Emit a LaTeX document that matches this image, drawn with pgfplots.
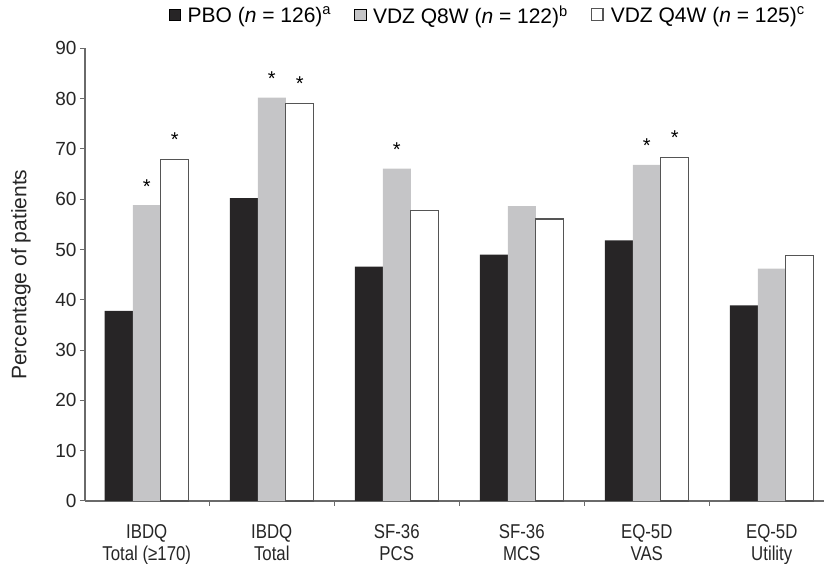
\documentclass[border=0pt]{standalone}
\usepackage{pgfplots}
\pgfplotsset{compat=1.18}
\usepackage{fontspec}
\setmainfont{Liberation Sans}
\newfontfamily\narrowsans[FakeStretch=0.84]{Liberation Sans}

\definecolor{pbo}{HTML}{272526}
\definecolor{qeight}{HTML}{C5C5C7}
\definecolor{edge}{HTML}{555555}
\definecolor{axgray}{HTML}{6A6A6A}

\begin{document}
\begin{tikzpicture}[x=1pt,y=1pt]
\useasboundingbox (-85,-63) rectangle (739,501);
\begin{axis}[
    at={(0,0)}, anchor=south west,
    scale only axis,
    width=739pt, height=452.7pt,
    xmin=-0.494, xmax=5.418,
    ymin=0, ymax=90,
    ybar=0pt, bar width=28pt,
    axis x line*=bottom, axis y line*=left,
    axis line style={-, draw=axgray, line width=1.2pt},
    tick align=outside,
    major tick length=5pt, minor tick length=5pt,
    xtick={0,1,2,3,4,5},
    minor xtick={0.5,1.5,2.5,3.5,4.5},
    major x tick style={draw=none},
    minor x tick style={draw=axgray, line width=1pt},
    y tick style={draw=axgray, line width=1pt},
    ytick={0,10,...,90},
    xticklabels={{IBDQ\\Total (≥170)},{IBDQ\\Total},{SF-36\\PCS},{SF-36\\MCS},{EQ-5D\\VAS},{EQ-5D\\Utility}},
    xticklabel style={align=center, font=\narrowsans\fontsize{20}{22.5}\selectfont, text=black!85, yshift=-15pt},
    yticklabel style={font=\fontsize{19}{21}\selectfont, text=black!85},
    /pgf/number format/assume math mode=true,
    ylabel={Percentage of patients},
    ylabel style={at={(axis description cs:-0.0866,0.5)}, anchor=center, font=\fontsize{21}{23}\selectfont, text=black!85},
    legend columns=-1,
    legend style={at={(0.545,1.073)}, anchor=center, draw=none, fill=none,
        font=\fontsize{21}{24}\selectfont,
        /tikz/every odd column/.append style={column sep=5pt},
        /tikz/every even column/.append style={column sep=21pt}},
    legend image code/.code={\draw[#1] (0pt,-5pt) rectangle (11.5pt,6.5pt);},
    clip=false,
]
\addplot[fill=pbo, draw=none] coordinates {
    (0,37.8) (1,60.2) (2,46.6) (3,49.0) (4,51.8) (5,38.9)};
\addplot[fill=qeight, draw=none, nodes near coords, point meta=explicit symbolic,
    every node near coord/.append style={font=\fontsize{20}{20}\selectfont, inner sep=0pt, anchor=south, yshift=12pt}]
    coordinates {
    (0,58.8) [*] (1,80.2) [*] (2,66.1) [*] (3,58.6) [{}] (4,66.8) [*] (5,46.2) [{}]};
\addplot[fill=white, draw=edge, line width=1.4pt, nodes near coords, point meta=explicit symbolic,
    every node near coord/.append style={font=\fontsize{20}{20}\selectfont, inner sep=0pt, anchor=south, yshift=12pt}]
    coordinates {
    (0,67.9) [*] (1,79.0) [*] (2,57.7) [{}] (3,56.1) [{}] (4,68.3) [*] (5,48.8) [{}]};
\legend{PBO (\textit{n} = 126)\textsuperscript{a}, VDZ Q8W (\textit{n} = 122)\textsuperscript{b}, VDZ Q4W (\textit{n} = 125)\textsuperscript{c}}
\end{axis}
\end{tikzpicture}
\end{document}
